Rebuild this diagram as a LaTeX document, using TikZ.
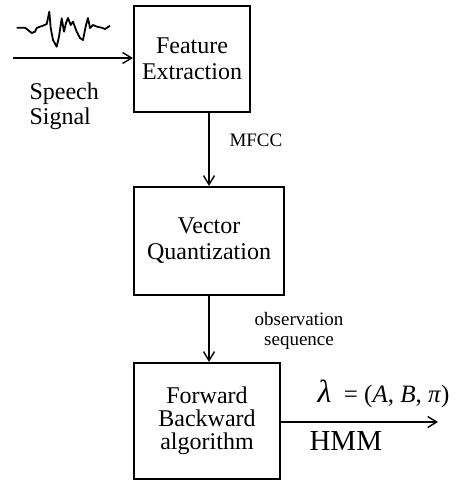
\documentclass[tikz,border=0pt]{standalone}
\usepackage{fontspec}
\setmainfont{Liberation Serif}
\usetikzlibrary{arrows.meta}

\tikzset{
  block/.style={draw, line width=2.2pt, minimum width=#1, align=center, font=\fontsize{24}{26}\selectfont},
  flow/.style={-{Straight Barb[length=9pt,width=11pt,line width=1.4pt]}, line width=1.6pt},
  lbl/.style={font=\fontsize{19}{21}\selectfont, align=center}
}

\begin{document}
\begin{tikzpicture}[x=1pt, y=-1pt]

 \useasboundingbox (0,0) rectangle (465,483);

 %%%%%%%%%% Blocks %%%%%%%%%%
 \node[block=116pt, minimum height=106pt] (feat) at (192,59) {Feature\\Extraction};
 \node[block=150pt, minimum height=108pt] (vq) at (209,241) {Vector\\Quantization};
 \node[block=146pt, minimum height=116pt, font=\fontsize{24}{23}\selectfont] (fb) at (207,421) {Forward\\Backward\\algorithm};

 %%%%%%%%%% Points pour les fleches %%%%%%%%%%
 \coordinate (in) at (13,58);
 \coordinate (out) at (438,422);
 \coordinate (a1) at (209,112);
 \coordinate (a2) at (209,295);

 %%%%%%%%%% Speech waveform %%%%%%%%%%
 \draw[line width=1.8pt, line join=round]
   (16.7,27.7) -- (25,27.7) -- (28,30) -- (31.7,33) -- (35,31.7) -- (36.7,28)
   -- (40,26.7) -- (43,25.7) -- (46.7,24) -- (49.3,11.7) -- (50.7,28) -- (53,40)
   -- (56.7,46.7) -- (59,36.7) -- (61.7,18.3) -- (64,31.7) -- (66,23) -- (68,18)
   -- (70.7,25) -- (73,21.7) -- (76.7,31.7) -- (80,38) -- (83,40) -- (86,25)
   -- (88,18) -- (90,28) -- (93,25) -- (97,26.7) -- (101.7,27.7) -- (105,29)
   -- (110,25.7);

 %%%%%%%%%% Connectors %%%%%%%%%%
 \draw[flow] (in) -- (feat.west |- in);
 \draw[flow] (a1) -- (vq.north -| a1);
 \draw[flow] (a2) -- (fb.north -| a2);
 \draw[flow] (fb.east |- out) -- (out);

 %%%%%%%%%% Labels %%%%%%%%%%
 \node[font=\fontsize{24}{25}\selectfont, align=left, anchor=north west] (sig) at (26,79) {Speech\\Signal};
 \node[lbl, anchor=base west] (mfcc) at (226,146) {MFCC};
 \node[lbl, anchor=base] (obs) at (299,325) {observation};
 \node[lbl, anchor=base] (seq) at (299,345) {sequence};
 \node[font=\fontsize{25}{26}\selectfont, anchor=base west] (lam) at (314,402)
   {{\fontsize{32}{32}\selectfont\itshape λ}\enspace= (\textit{A}, \textit{B}, \textit{π})};
 \node[font=\fontsize{29}{30}\selectfont, anchor=base west] (hmm) at (306,450) {HMM};

\end{tikzpicture}
\end{document}
